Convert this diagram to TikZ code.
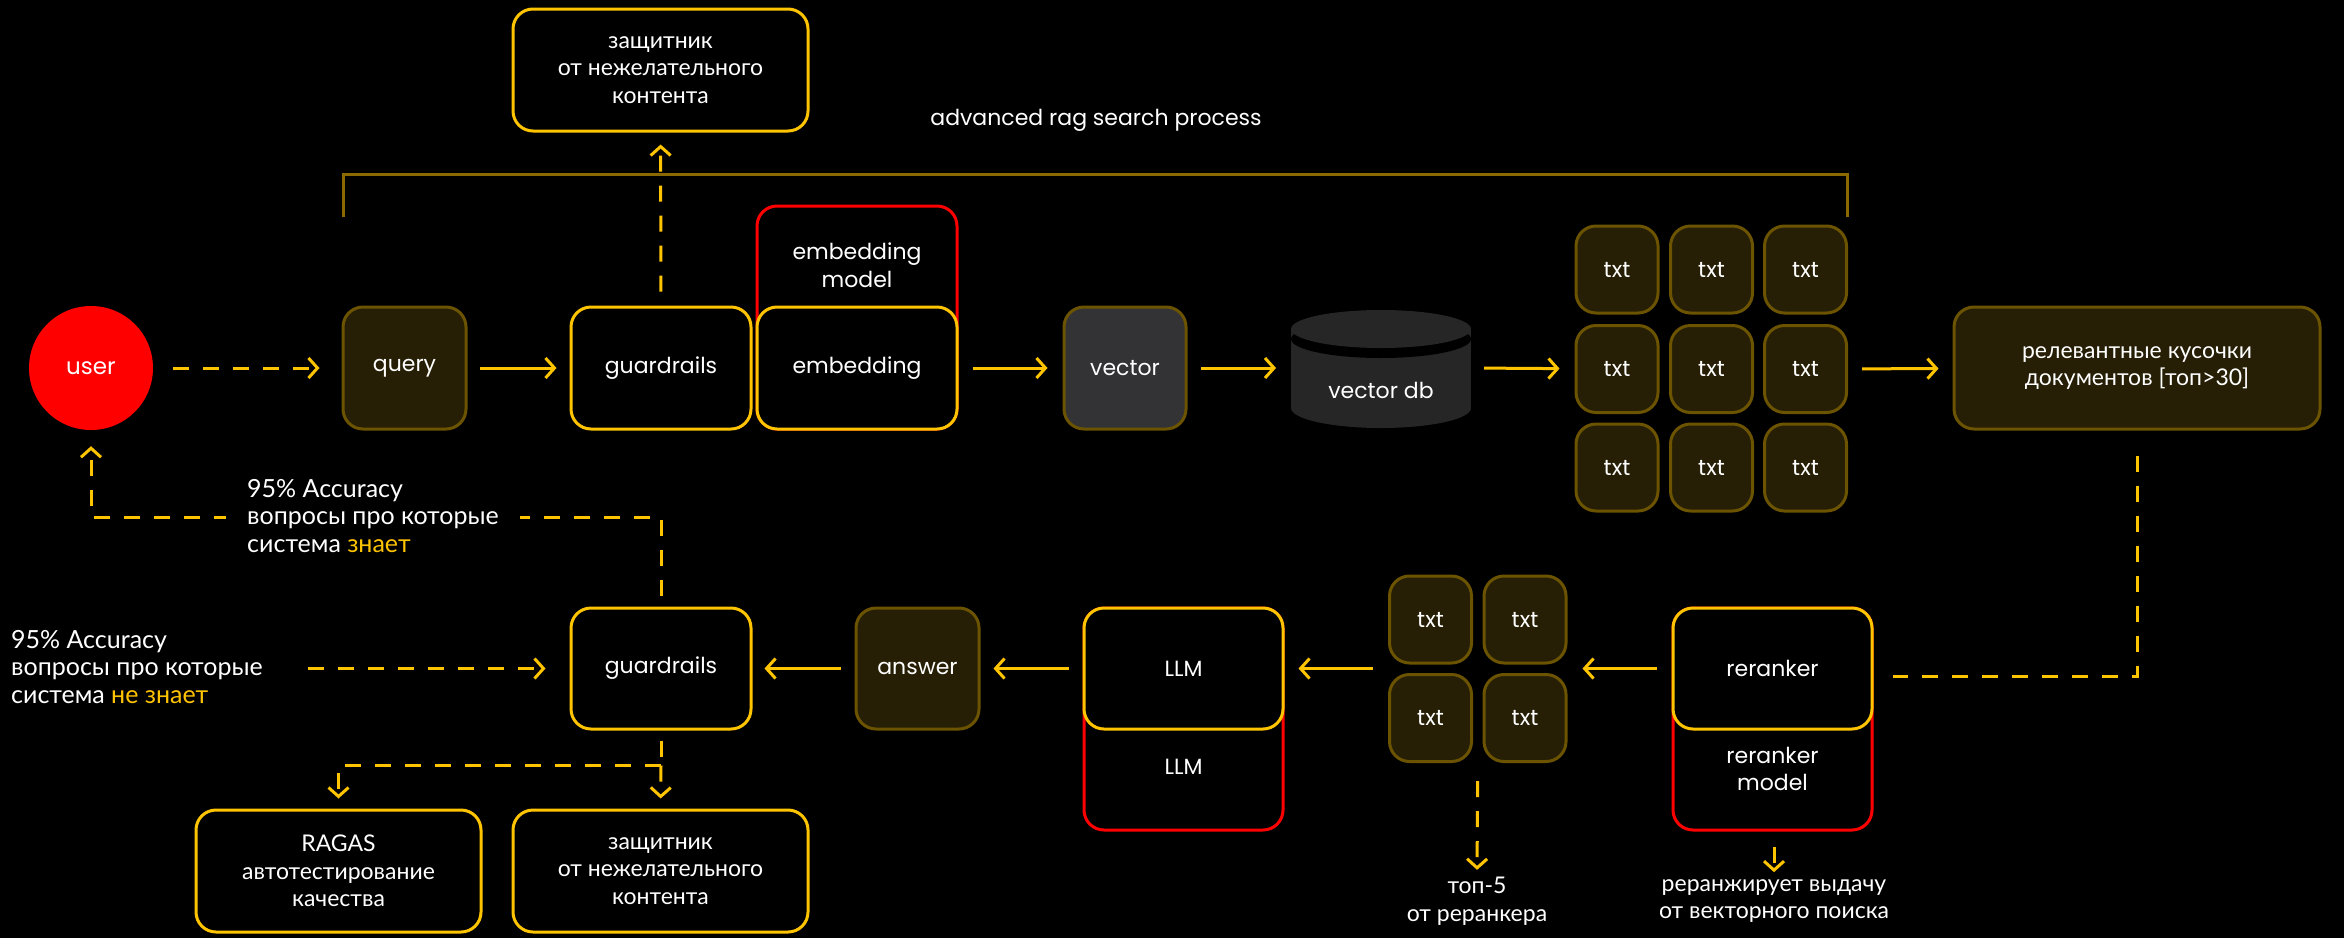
\documentclass[tikz,border=0pt]{standalone}
\usepackage{fontspec}
\setmainfont{Poppins}
\newfontfamily\cyr{Lato}
\usetikzlibrary{arrows.meta,calc}
\definecolor{yel}{HTML}{FFC400}
\definecolor{dgold}{HTML}{6B5300}
\definecolor{dfill}{HTML}{261F05}
\definecolor{brk}{HTML}{8A6A00}
\definecolor{vgrey}{HTML}{333336}
\definecolor{dbgrey}{HTML}{262626}
\definecolor{rd}{HTML}{FF0000}
\begin{document}
\begin{tikzpicture}[x=1pt,y=-1pt,
  base/.style={rounded corners=20pt, line width=3pt, inner sep=0pt, align=center, text=white, font=\fontsize{22}{27.5}\selectfont},
  cyrf/.style={font=\cyr\fontsize{23}{27.5}\selectfont},
  accf/.style={font=\cyr\fontsize{25}{27.5}\selectfont},
  ybox/.style={base, draw=yel, fill=black},
  dbox/.style={base, draw=dgold, fill=dfill},
  gbox/.style={base, draw=dgold, fill=vgrey},
  rbox/.style={base, draw=rd, fill=black},
  lbl/.style={text=white, align=center, inner sep=0pt, font=\fontsize{22}{27.5}\selectfont},
  arr/.style={draw=yel, line width=3pt, -{Straight Barb[length=9pt,width=20pt]}},
  darr/.style={arr, dash pattern=on 16pt off 14pt},
  dline/.style={draw=yel, line width=3pt, dash pattern=on 16pt off 14pt},
]
\fill[black] (0,0) rectangle (2344,938);
\useasboundingbox (0,0) rectangle (2344,938);

% bracket
\draw[brk, line width=3pt] (343,217) -- (343,174) -- (1847,174) -- (1847,217);
\node[lbl] (adv) at (1096,120) {advanced rag search process};

% top row
\node[circle, fill=rd, minimum size=124pt, inner sep=0pt, text=white, font=\fontsize{23}{27.5}\selectfont] (user) at (91,368) {user};
\node[dbox, minimum width=123pt, minimum height=122pt] (query) at (404.5,368) {query};
\node[ybox, minimum width=180pt, minimum height=122pt] (guard1) at (661,368) {guardrails};
\node[rbox, minimum width=200pt, minimum height=223pt] (embred) at (857,317.5) {};
\node[lbl] (embmodel) at (857,265) {embedding\\model};
\node[ybox, minimum width=200pt, minimum height=122pt] (emb) at (857,368) {embedding};
\node[gbox, minimum width=122pt, minimum height=122pt] (vector) at (1125,368) {vector};
\node[ybox, cyrf, minimum width=295pt, minimum height=122pt] (def1) at (660.5,70) {защитник\\от нежелательного\\контента};

% cylinder
\fill[dbgrey] (1291,329) rectangle (1471,408);
\fill[dbgrey] (1381,408) ellipse [x radius=90, y radius=20];
\fill[black] (1381,339) ellipse [x radius=90, y radius=19];
\fill[dbgrey] (1381,329) ellipse [x radius=90, y radius=19];
\node[lbl] (vdb) at (1381,390) {vector db};
\coordinate (vdbW) at (1291,368);
\coordinate (vdbE) at (1471,368);

% txt grid
\foreach \r/\y in {1/269.5,2/369,3/467.5}
  \foreach \c/\x in {1/1617,2/1711.5,3/1805.5}
    \node[dbox, minimum width=82pt, minimum height=87pt] (t\r\c) at (\x,\y) {txt};

\node[dbox, cyrf, minimum width=366pt, minimum height=122pt] (rel) at (2137,368) {релевантные кусочки\\документов [топ>30]};

% bottom row
\node[rbox, minimum width=199pt, minimum height=222pt] (rrred) at (1772.5,719) {};
\node[lbl] (rrmodel) at (1772.5,769) {reranker\\model};
\node[ybox, minimum width=199pt, minimum height=121pt] (rerank) at (1772.5,668.5) {reranker};

\foreach \r/\y in {1/619.5,2/718}
  \foreach \c/\x in {1/1430.5,2/1525}
    \node[dbox, minimum width=82pt, minimum height=87pt] (s\r\c) at (\x,\y) {txt};

\node[rbox, minimum width=199pt, minimum height=222pt] (llmred) at (1183.5,719) {};
\node[lbl] (llm2) at (1183.5,767) {LLM};
\node[ybox, minimum width=199pt, minimum height=121pt] (llm) at (1183.5,668.5) {LLM};

\node[dbox, minimum width=123pt, minimum height=121pt] (answer) at (917.5,668.5) {answer};
\node[ybox, minimum width=180pt, minimum height=121pt] (guard2) at (661,668.5) {guardrails};

\node[ybox, cyrf, minimum width=285pt, minimum height=122pt] (ragas) at (338.5,871) {RAGAS\\автотестирование\\качества};
\node[ybox, cyrf, minimum width=295pt, minimum height=122pt] (def2) at (660.5,871) {защитник\\от нежелательного\\контента};

\node[lbl, cyrf] (top5) at (1477,901) {топ-5\\от реранкера};
\node[lbl, cyrf] (rrnote) at (1774,901) {реранжирует выдачу\\от векторного поиска};

% solid arrows
\draw[arr, shorten <=12pt, shorten >=13pt] (query) -- (guard1);
\draw[arr, shorten <=14pt, shorten >=15pt] (emb) -- (vector);
\draw[arr, shorten <=13pt, shorten >=15pt] (vector) -- (vdbW);
\draw[arr, shorten <=13pt, shorten >=15pt] (vdbE) -- (t21);
\draw[arr, shorten <=14pt, shorten >=14pt] (t23) -- (rel);
\draw[arr, shorten <=15pt, shorten >=15pt] (rerank.west) -- (rerank.west -| s12.east);
\draw[arr, shorten <=15pt, shorten >=14pt] (rerank.west -| s11.west) -- (llm.east);
\draw[arr, shorten <=14pt, shorten >=13pt] (llm) -- (answer);
\draw[arr, shorten <=14pt, shorten >=12pt] (answer) -- (guard2);

% dashed connectors
\draw[darr, shorten <=20pt, shorten >=22pt] (user) -- (query);
\draw[darr, shorten <=14pt, shorten >=12pt] (guard1) -- (def1);
\draw[dline] ([yshift=-25pt]rel.south) |- ([xshift=19pt,yshift=-7.5pt]rerank.east);
\draw[darr] ([yshift=11pt]guard2.north) -- (guard2.north |- 0,517) -- (user.south |- 0,517) -- ([yshift=-16pt]user.south);
\node[lbl, accf, align=left, anchor=west, fill=black, inner xsep=21pt] (acc1) at (226,516) {95\% Accuracy\\вопросы про которые\\система \textcolor{yel}{знает}};
\node[lbl, accf, align=left, anchor=west] (acc2) at (11,667) {95\% Accuracy\\вопросы про которые\\система \textcolor{yel}{не знает}};
\draw[darr, shorten >=24pt] ([xshift=45pt]acc2.east |- guard2.west) -- (guard2.west);
\draw[dline] ([yshift=-10pt]guard2.south) -- ++(0,25) coordinate (split);
\draw[darr, shorten >=10pt] (split) -- (def2.north);
\draw[darr, shorten >=10pt] (split) -| (ragas.north);
\draw[darr, shorten <=18pt, shorten >=7pt] ($(s21.south)!0.5!(s22.south)$) -- (top5.north);
\draw[darr, shorten <=15pt, shorten >=7pt] (rrred.south -| rrnote.north) -- (rrnote.north);
\end{tikzpicture}
\end{document}
